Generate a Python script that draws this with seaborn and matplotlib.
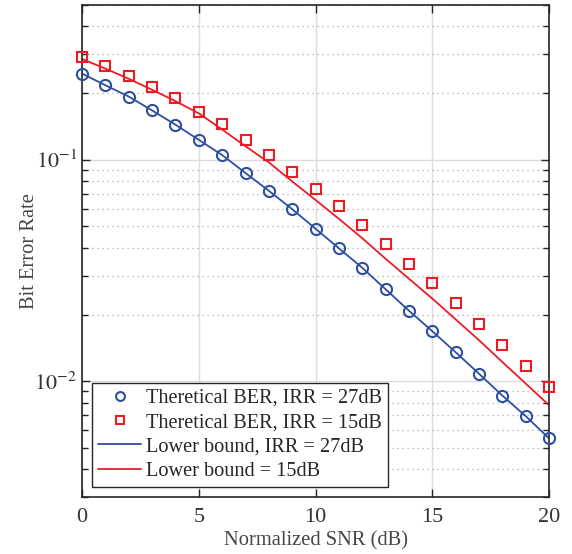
import numpy as np
import matplotlib
matplotlib.use("Agg")
import matplotlib.pyplot as plt
import seaborn as sns

snr_db = list(range(21))
ber_irr27 = [0.245, 0.217, 0.193, 0.167, 0.144, 0.123, 0.105, 0.0871, 0.0724, 0.0598,
             0.0488, 0.0398, 0.0325, 0.0260, 0.0208, 0.0168, 0.0135, 0.0108, 0.0086,
             0.00695, 0.00551]
ber_irr15 = [0.290, 0.266, 0.240, 0.213, 0.190, 0.164, 0.145, 0.123, 0.105, 0.0878,
             0.0741, 0.0615, 0.0507, 0.0416, 0.0338, 0.0277, 0.0225, 0.0181, 0.0146,
             0.0117, 0.00942]
bound_irr27 = [0.245, 0.217, 0.193, 0.167, 0.144, 0.123, 0.105, 0.0871, 0.0724, 0.0598,
               0.0488, 0.0398, 0.0325, 0.0260, 0.0208, 0.0168, 0.0135, 0.0108, 0.0086,
               0.00695, 0.00551]
bound_irr15 = [0.285, 0.258, 0.232, 0.207, 0.184, 0.162, 0.137, 0.115, 0.0973, 0.0798,
               0.0658, 0.0541, 0.0442, 0.0357, 0.0290, 0.0236, 0.0190, 0.0153, 0.0122,
               0.00975, 0.00778]
labels = ["Theretical BER, IRR = 27dB", "Theretical BER, IRR = 15dB",
          "Lower bound, IRR = 27dB", "Lower bound = 15dB"]

blue = "#2d4fa0"
red = "#ec1c24"
dark = "#262626"

sns.set_style("ticks")
plt.rcParams["font.family"] = ["Liberation Serif", "DejaVu Serif"]
plt.rcParams["mathtext.fontset"] = "stix"

fig = plt.figure(figsize=(5.72, 5.54), dpi=100)
ax = fig.add_axes([0.1434, 0.103, 0.8166, 0.888])

sns.lineplot(x=snr_db, y=ber_irr27, ax=ax, marker="o", linestyle="", markersize=8,
             markerfacecolor="none", markeredgecolor=blue, markeredgewidth=1.5,
             color=blue, label=labels[0], clip_on=False, zorder=4)
sns.lineplot(x=snr_db, y=ber_irr15, ax=ax, marker="s", linestyle="", markersize=6.5,
             markerfacecolor="none", markeredgecolor=red, markeredgewidth=1.5,
             color=red, label=labels[1], clip_on=False, zorder=4)
sns.lineplot(x=snr_db, y=bound_irr27, ax=ax, color=blue, lw=1.3, label=labels[2])
sns.lineplot(x=snr_db, y=bound_irr15, ax=ax, color=red, lw=1.3, label=labels[3])

ax.set_yscale("log")
ax.set_xlim(0, 20)
ax.set_ylim(0.003, 0.5)
ax.set_xticks([0, 5, 10, 15, 20])
ax.set_yticks([0.01, 0.1])
ax.set_yticklabels([r"$10^{-2}$", r"$10^{-1}$"])
ax.yaxis.set_minor_formatter(matplotlib.ticker.NullFormatter())

ax.grid(which="major", color="#dcdcdc", lw=1.0)
ax.grid(which="minor", axis="y", color="#aaaaaa", lw=0.9, ls=(0, (1, 3)))
ax.set_axisbelow(True)

ax.tick_params(which="both", direction="in", top=True, right=True, colors=dark,
               labelcolor="#333333", labelsize=16)
ax.tick_params(axis="x", pad=8)
ax.tick_params(which="major", length=6, width=1)
ax.tick_params(which="minor", length=4, width=1)
for s in ax.spines.values():
    s.set_color(dark)
    s.set_linewidth(1.2)

ax.set_xlabel("Normalized SNR (dB)", fontsize=14.8, color="#444444", labelpad=3)
ax.set_ylabel("Bit Error Rate", fontsize=14.8, color="#444444", labelpad=-3)

leg = ax.legend(loc="lower left", fontsize=14.6, frameon=True, fancybox=False,
                framealpha=1, edgecolor=dark, borderaxespad=0.5, labelspacing=0.25,
                handlelength=2.1, handletextpad=0.25, borderpad=0.3, markerscale=0.8)
leg.get_frame().set_linewidth(1.0)

fig.savefig("out.png", dpi=100)
